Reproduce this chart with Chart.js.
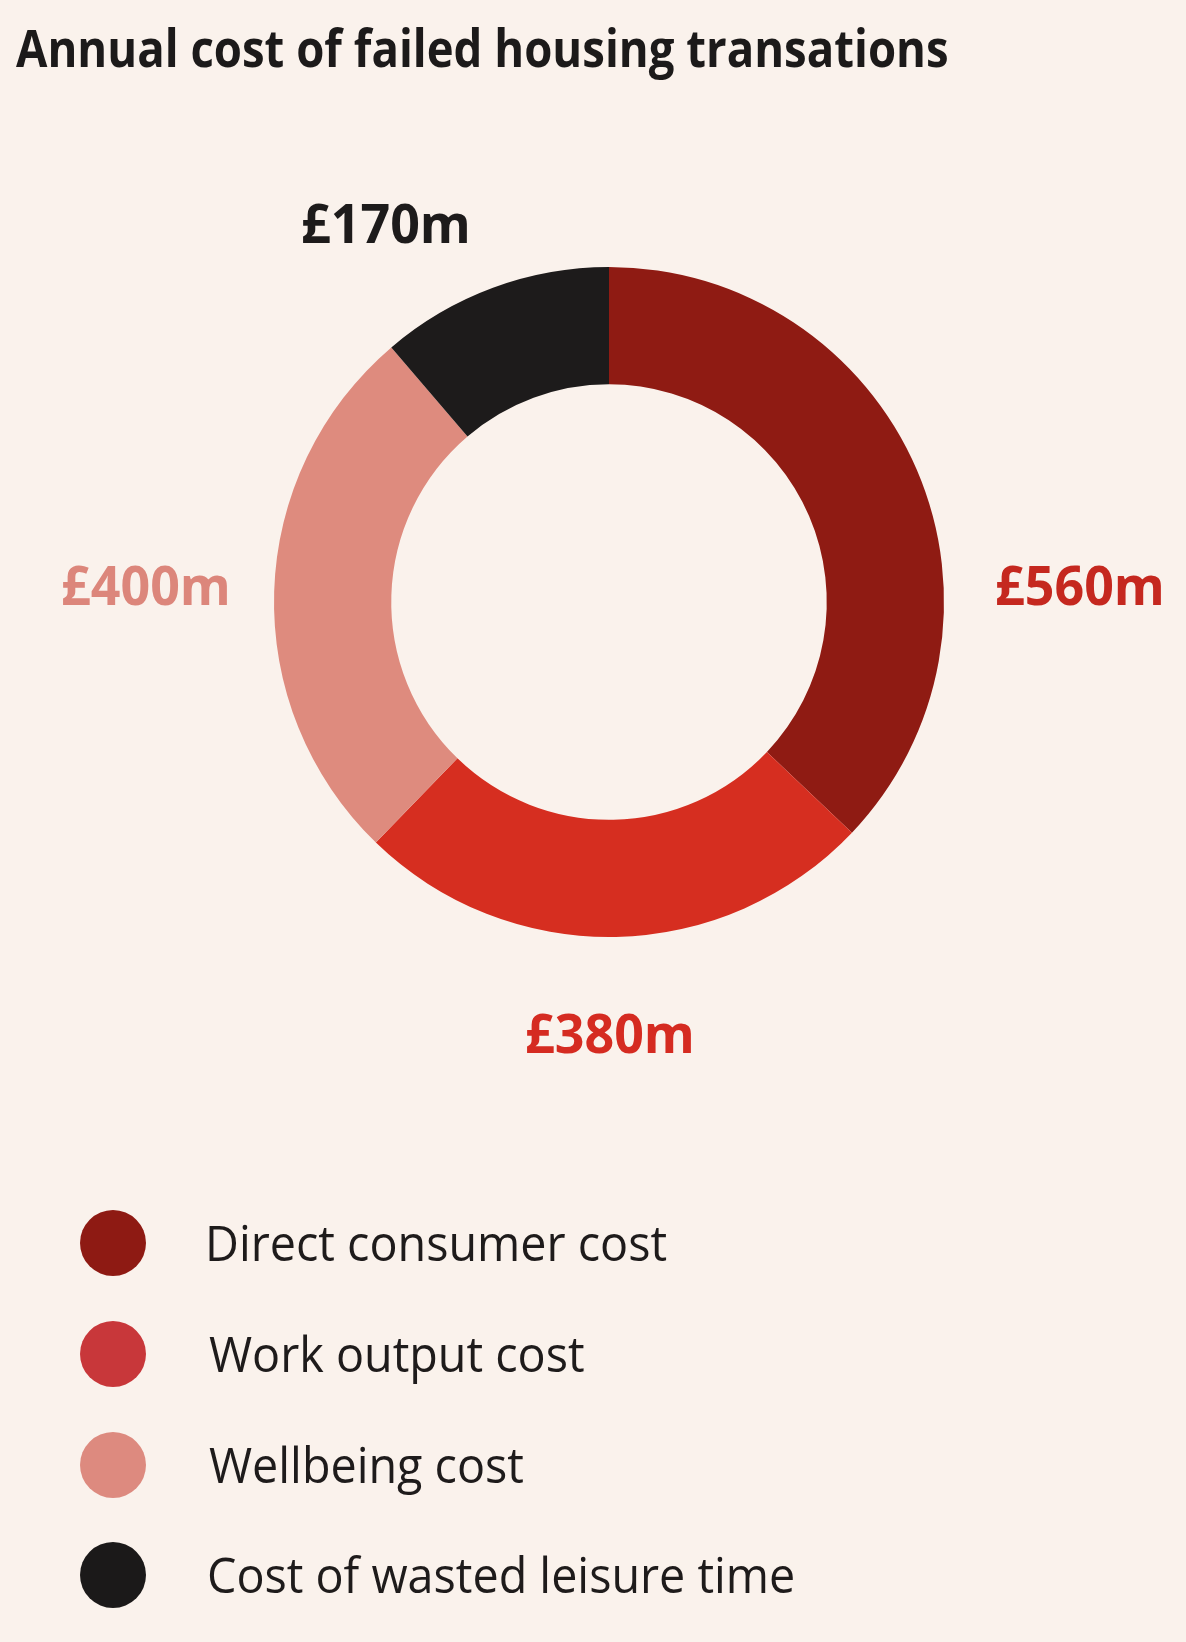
<!DOCTYPE html>
<html><head><meta charset="utf-8">
<script src="https://cdn.jsdelivr.net/npm/chart.js@4.4.1/dist/chart.umd.min.js"></script>
<style>
html,body{margin:0;padding:0;background:#faf2ec;}
#wrap{position:relative;width:1186px;height:1642px;overflow:hidden;background:#faf2ec;}
#chart{position:absolute;left:0;top:0;}
.t{position:absolute;white-space:nowrap;line-height:1;transform-origin:0 0;margin:0;}
.dot{position:absolute;border-radius:50%;}
</style></head><body>
<div id="wrap"><canvas id="chart" width="1186" height="1642"></canvas></div>
<script>
// ---- data ----
const titleText = "Annual cost of failed housing transations";
const categories = ["Direct consumer cost", "Work output cost", "Wellbeing cost", "Cost of wasted leisure time"];
const values = [560, 380, 400, 170];
const valueLabels = ["£560m", "£380m", "£400m", "£170m"];

// ---- styles ----
const FONT = '"Open Sans", "Noto Sans", sans-serif';
const sliceColors = ["#8f1b13", "#d62e20", "#de8b7e", "#1d1b1b"];
const labelColors = ["#c5281f", "#d52b21", "#dc867b", "#1d1b1b"];
const legendColors = ["#8e1a13", "#c8373a", "#dd8a7f", "#1b1919"];
// label anchor offsets (ink centre x, baseline y) relative to the doughnut centre
const labelOffsets = [[470, 3], [0, 451], [-464, 3], [-224, -359]];

const wrap = document.getElementById('wrap');
const mctx = document.createElement('canvas').getContext('2d');

function measure(text, font) {
  mctx.font = font;
  return mctx.measureText(text);
}
function baselineInBox(font, fs) {
  mctx.font = font;
  const m = mctx.measureText('Hg');
  const asc = m.fontBoundingBoxAscent, desc = m.fontBoundingBoxDescent;
  return (fs - (asc + desc)) / 2 + asc;
}
function placeText(text, weight, fs, color, inkLeft, baseline, scale) {
  const font = weight + ' ' + fs + 'px ' + FONT;
  const m = measure(text, font);
  const el = document.createElement('div');
  el.className = 't';
  el.textContent = text;
  el.style.font = font;
  el.style.lineHeight = fs + 'px';
  el.style.color = color;
  el.style.left = (inkLeft + m.actualBoundingBoxLeft * scale) + 'px';
  el.style.top = (baseline - baselineInBox(font, fs)) + 'px';
  el.style.transform = 'scaleX(' + scale + ')';
  wrap.appendChild(el);
  return el;
}
function inkScale(text, weight, fs, target) {
  const m = measure(text, weight + ' ' + fs + 'px ' + FONT);
  return target / (m.actualBoundingBoxLeft + m.actualBoundingBoxRight);
}

// title
const titleFs = 52;
placeText(titleText, 700, titleFs, '#1c1a1a', 16, 67, inkScale(titleText, 700, titleFs, 931));

// legend
const legendFs = 49;
const legendScale = inkScale(categories[3], 400, legendFs, 584);
const legendRows = [1243, 1354, 1465, 1575];
categories.forEach((c, i) => {
  const d = document.createElement('div');
  d.className = 'dot';
  d.style.left = (113 - 33) + 'px';
  d.style.top = (legendRows[i] - 33) + 'px';
  d.style.width = '66px';
  d.style.height = '66px';
  d.style.background = legendColors[i];
  wrap.appendChild(d);
  placeText(c, 400, legendFs, '#1e1b1b', 209, legendRows[i] + 18, legendScale);
});

// value labels plugin
const labelFs = 54;
const labelScale = inkScale(valueLabels[0], 700, labelFs, 164);
const valueLabelPlugin = {
  id: 'valueLabels',
  afterDatasetsDraw(chart) {
    const arcs = chart.getDatasetMeta(0).data;
    if (!arcs.length) return;
    const cx = arcs[0].x, cy = arcs[0].y;
    const ctx = chart.ctx;
    ctx.save();
    ctx.font = '700 ' + labelFs + 'px ' + FONT;
    ctx.textBaseline = 'alphabetic';
    valueLabels.forEach((t, i) => {
      const m = ctx.measureText(t);
      const inkCentre = (m.actualBoundingBoxRight - m.actualBoundingBoxLeft) / 2;
      ctx.save();
      ctx.translate(cx + labelOffsets[i][0], cy + labelOffsets[i][1]);
      ctx.scale(labelScale, 1);
      ctx.fillStyle = labelColors[i];
      ctx.textAlign = 'left';
      ctx.fillText(t, -inkCentre, 0);
      ctx.restore();
    });
    ctx.restore();
  }
};

new Chart(document.getElementById('chart'), {
  type: 'doughnut',
  data: {
    labels: categories,
    datasets: [{
      data: values,
      backgroundColor: sliceColors,
      hoverBackgroundColor: sliceColors,
      borderWidth: 0,
      hoverBorderWidth: 0,
      hoverOffset: 0
    }]
  },
  options: {
    responsive: false,
    animation: false,
    cutout: '65%',
    rotation: 0,
    layout: { padding: { left: 274, right: 242, top: 267, bottom: 705 } },
    plugins: {
      legend: { display: false },
      tooltip: { enabled: false },
      title: { display: false }
    },
    events: []
  },
  plugins: [valueLabelPlugin]
});
</script>
</body></html>
